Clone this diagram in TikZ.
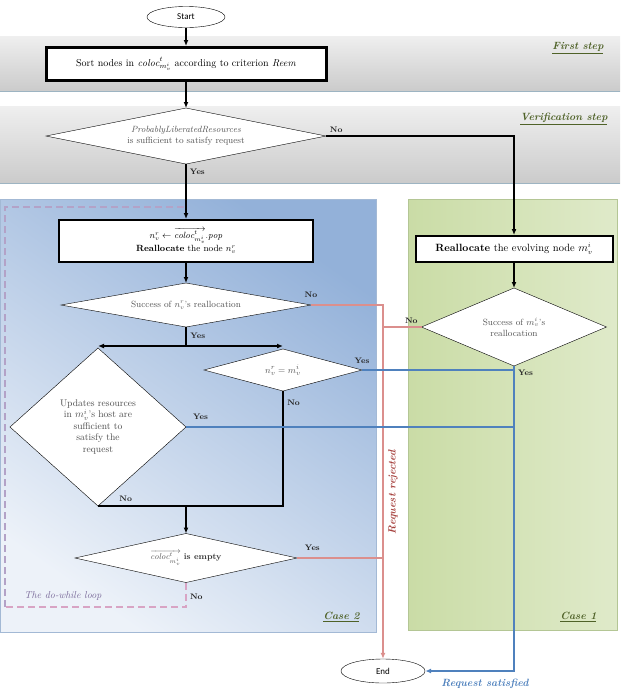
\documentclass[tikz,border=0pt]{standalone}
\usepackage{fontspec}
\newfontfamily\calibri{Carlito}
\usetikzlibrary{arrows.meta,shapes.geometric}
\definecolor{stepgreen}{HTML}{4F6228}
\definecolor{rejline}{HTML}{DB8F8D}
\definecolor{rejtext}{HTML}{A5403D}
\definecolor{satline}{HTML}{4F81BD}
\definecolor{looppurple}{HTML}{B3A2C7}
\definecolor{looppink}{HTML}{D8A4C4}
\definecolor{looptext}{HTML}{7A6A9A}
\definecolor{txtgray}{HTML}{555555}
\definecolor{bandlight}{HTML}{EFEFEF}
\definecolor{banddark}{HTML}{CBCBCB}
\definecolor{bandedge}{HTML}{9DB4C2}
\definecolor{casetwodark}{HTML}{93B1D9}
\definecolor{casetwolight}{HTML}{EDF2F9}
\definecolor{casetwoedge}{HTML}{A3B9D5}
\definecolor{caseonedark}{HTML}{CADCA6}
\definecolor{caseonelight}{HTML}{EFF4E5}
\definecolor{caseoneedge}{HTML}{B4C695}

\begin{document}
\begin{tikzpicture}[x=1pt,y=-1pt,>={Latex[length=6pt,width=5pt]},
  proc/.style={draw,line width=2pt,fill=white,align=center,inner sep=2pt,font=\small},
  dec/.style={draw,thin,fill=white,diamond,align=center,inner sep=0pt,outer sep=0pt,text=txtgray,font=\small},
  term/.style={draw,thin,ellipse,fill=white,font=\calibri\small,inner sep=0pt},
  lbl/.style={font=\footnotesize\bfseries,text=black!85},
  stepname/.style={font=\fontsize{10.5}{12}\selectfont\bfseries\itshape,text=stepgreen,anchor=east},
  flow/.style={line width=1.2pt},
  fat/.style={line width=2pt},
  rej/.style={draw=rejline,line width=1.2pt},
  sat/.style={draw=satline,line width=1.4pt},
  loopline/.style={dash pattern=on 7pt off 4pt,line width=1.5pt}]
\useasboundingbox (0,0) rectangle (624,697);
\shade[top color=bandlight,bottom color=banddark] (0,36) rectangle (620,91);
\draw[bandedge,line width=1pt] (0,91) -- (620,91);
\shade[top color=bandlight,bottom color=banddark] (0,106) rectangle (620,183);
\draw[bandedge,line width=1pt] (0,183) -- (620,183);
\shade[top color=casetwodark,bottom color=casetwolight,shading angle=-35] (0,199) rectangle (376,632);
\draw[casetwoedge,line width=1pt] (0,199) rectangle (376,632);
\shade[left color=caseonedark,middle color=caseonelight,right color=caseonedark!60!white] (408,199) rectangle (617,630);
\draw[caseoneedge,line width=1pt] (408,199) rectangle (617,630);

\node[stepname] (firstname) at (607,48) {\underline{First step}};
\node[stepname] (verifname) at (611,119) {\underline{Verification step}};
\node[stepname] (casetwoname) at (363,617) {\underline{Case 2}};
\node[stepname] (caseonename) at (600,617) {\underline{Case 1}};
\node[font=\normalsize\itshape,text=looptext] (looplbl) at (63,596) {The do-while loop};

\node[term,minimum width=78pt,minimum height=21pt] (start) at (186,17) {Start};
\node[proc,line width=3pt,minimum width=280pt,minimum height=33pt,font=\normalsize] (sort) at (186,64)
  {Sort nodes in $\mathit{coloc}^{t}_{m_v^i}$ according to criterion \textit{Reem}};
\node[dec,shape aspect=5,minimum width=280pt,minimum height=56pt] (verif) at (186,136)
  {\textit{ProbablyLiberatedResources}\\is sufficient to satisfy request};
\node[proc,minimum width=254pt,minimum height=42pt] (pop) at (186,241)
  {$n_v^r \leftarrow \overrightarrow{\mathit{coloc}^{t}_{m_v^i}}.\mathit{pop}$\\[2pt]\textbf{Reallocate} the node $n_v^r$};
\node[dec,shape aspect=5.7,minimum width=250pt,minimum height=44pt] (okr) at (186,305)
  {Success of $n_v^r$'s reallocation};
\node[dec,shape aspect=3.8,minimum width=158pt,minimum height=42pt,font=\fontsize{9.5}{11}\selectfont] (same) at (283,370) {$n_v^r = m_v^i$};
\node[dec,shape aspect=1.1,minimum width=176pt,minimum height=158pt,font=\fontsize{9.6}{11.5}\selectfont,text=black!70] (upd) at (98,427)
  {Updates resources\\in $m_v^i$'s host are\\sufficient to\\satisfy the\\request};
\node[dec,shape aspect=4.5,minimum width=222pt,minimum height=49pt,font=\fontsize{8.5}{10}\selectfont] (empty) at (186,558)
  {$\overrightarrow{\mathit{coloc}^{t}_{m_v^i}}$ \textbf{\color{black!80}is empty}};
\node[proc,minimum width=197pt,minimum height=26pt,font=\fontsize{10.5}{12}\selectfont] (evo) at (514,249)
  {\textbf{Reallocate} the evolving node $m_v^i$};
\node[dec,shape aspect=2.4,minimum width=185pt,minimum height=78pt] (oki) at (514,327)
  {Success of $m_v^i$'s\\reallocation};
\node[term,minimum width=84pt,minimum height=24pt] (end) at (383,671) {End};

\draw[flow,->] (start) -- (sort);
\draw[flow,->] (sort) -- (verif);
\draw[flow,->] (verif) -- node[lbl,anchor=west,pos=.14]{Yes} (pop);
\draw[flow,->] (verif.east) node[lbl,above right]{No} -| (evo.north);
\draw[flow,->] (pop) -- (okr);
\draw[flow,->] (evo) -- (oki);
\coordinate (split) at (186,346);
\draw[fat] (okr.south) -- node[lbl,right,pos=.45]{Yes} (split);
\draw[fat,<->] (upd.north |- split) -- (same.north |- split);
\draw[fat] (same.south) -- node[lbl,right,pos=.1]{No} (same.south |- upd.south)
  -- node[lbl,above,pos=.85]{No} (upd.south);
\draw[fat,->] (empty.north |- upd.south) -- (empty.north);
\coordinate (loopbot) at (5,607);
\coordinate (looptop) at (5,207);
\draw[loopline,draw=looppink] (empty.south) -- node[lbl,right,pos=.6]{No} (empty.south |- loopbot) -- (loopbot);
\draw[loopline,draw=looppurple] (loopbot) -- (looptop) -- (looptop -| pop.north);

\draw[rej,->] (okr.east) node[lbl,above=4pt]{No} -| (end.north);
\draw[rej] (oki.west) node[lbl,above left]{No} -- (oki.west -| end.north);
\draw[rej] (empty.east) node[lbl,above right=4pt]{Yes} -- (empty.east -| end.north);
\draw[sat,->] (oki.south) node[lbl,below right]{Yes} |- (end.east);
\draw[sat] (same.east) node[lbl,above=2pt]{Yes} -- (same.east -| oki.south);
\draw[sat] (upd.east) node[lbl,above right=3pt]{Yes} -- (upd.east -| oki.south);

\node[font=\fontsize{10.5}{12}\selectfont\bfseries\itshape,text=rejtext,rotate=90] (rejlbl) at (393,492) {Request rejected};
\node[font=\fontsize{10.5}{12}\selectfont\bfseries\itshape,text=satline] (satlbl) at (485,684) {Request satisfied};
\end{tikzpicture}
\end{document}
